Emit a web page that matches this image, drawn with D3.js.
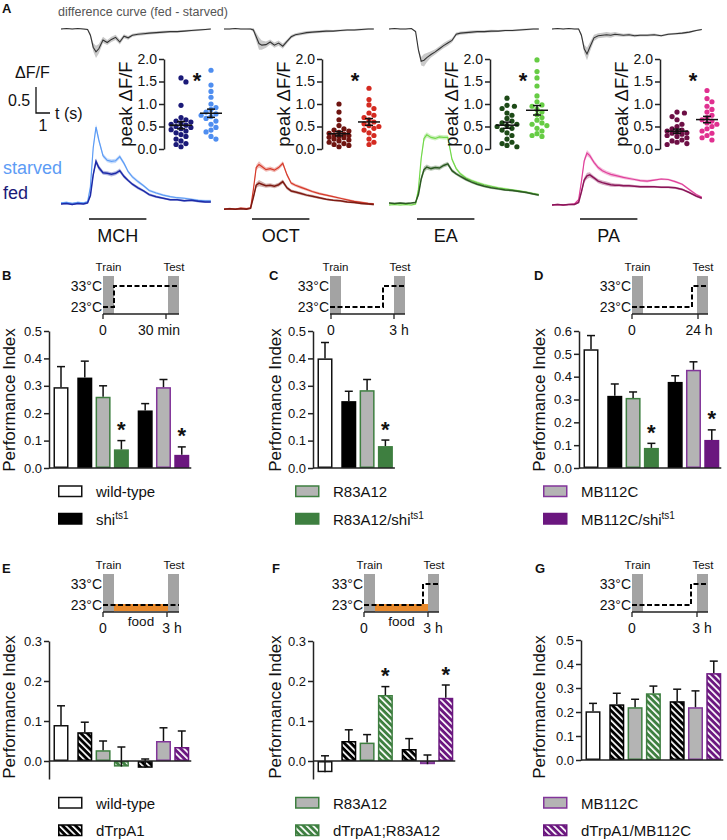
<!DOCTYPE html>
<html><head><meta charset="utf-8">
<script src="https://cdn.jsdelivr.net/npm/d3@7"></script>
<style>body{margin:0;background:#fff}svg{display:block}</style>
</head><body><svg id="c" width="727" height="840"></svg>
<script>
const FONT='"Liberation Sans",Arial,Helvetica,sans-serif';
// ---------------- Panel A data ----------------
const odors=["MCH","OCT","EA","PA"];
const traceT=[0,0.4,0.8,1.2,1.6,1.9,2.1,2.3,2.5,2.7,3.0,3.3,3.6,3.9,4.2,4.5,4.8,5.1,5.5,5.9,6.3,6.8,7.3,7.8,8.3,8.8,9.3,9.8,10.3,10.7];
const odorWindow=[2.0,6.1];
const fedMCH=[0.02,0.03,0.01,0.03,0.02,0.04,0.18,0.58,0.84,0.72,0.62,0.61,0.59,0.61,0.66,0.55,0.47,0.40,0.33,0.27,0.20,0.16,0.13,0.10,0.10,0.08,0.09,0.07,0.06,0.06];
const starvedMCH=[0.04,0.05,0.03,0.05,0.04,0.06,0.35,1.10,1.50,1.25,0.95,0.86,0.84,0.85,0.93,0.80,0.64,0.54,0.45,0.37,0.28,0.23,0.19,0.16,0.14,0.13,0.11,0.09,0.08,0.08];
const fedOCT=[-0.08,-0.07,-0.08,-0.07,-0.08,-0.06,0.15,0.38,0.42,0.40,0.37,0.38,0.36,0.39,0.45,0.33,0.27,0.25,0.22,0.19,0.17,0.14,0.11,0.09,0.08,0.06,0.05,0.03,0.02,0.01];
const starvedOCT=[-0.08,-0.07,-0.08,-0.06,-0.07,-0.06,0.30,0.72,0.78,0.74,0.68,0.70,0.67,0.72,0.80,0.58,0.42,0.38,0.34,0.30,0.26,0.22,0.19,0.16,0.13,0.10,0.07,0.05,0.03,0.02];
const fedEA=[0.04,0.03,0.04,0.03,0.04,0.05,0.20,0.50,0.68,0.73,0.70,0.72,0.71,0.76,0.79,0.66,0.60,0.55,0.49,0.44,0.40,0.36,0.33,0.31,0.29,0.28,0.26,0.24,0.21,0.19];
const starvedEA=[0.00,0.01,0.00,0.01,0.00,0.02,0.30,0.90,1.28,1.35,1.30,1.28,1.31,1.30,1.30,0.88,0.70,0.60,0.52,0.47,0.43,0.39,0.36,0.33,0.31,0.29,0.27,0.25,0.22,0.20];
const fedPA=[0.00,0.01,0.00,0.01,0.01,0.05,0.25,0.48,0.56,0.58,0.52,0.46,0.43,0.41,0.39,0.38,0.38,0.37,0.37,0.36,0.35,0.35,0.35,0.34,0.34,0.33,0.30,0.24,0.17,0.13];
const starvedPA=[0.00,0.01,0.00,0.01,0.02,0.10,0.45,0.85,1.00,0.95,0.82,0.72,0.66,0.62,0.59,0.57,0.55,0.53,0.51,0.49,0.47,0.46,0.48,0.50,0.49,0.45,0.40,0.30,0.20,0.15];
const traceSem=[0.015,0.015,0.015,0.015,0.015,0.02,0.03,0.05,0.06,0.05,0.04,0.04,0.04,0.04,0.04,0.035,0.03,0.03,0.03,0.025,0.025,0.025,0.02,0.02,0.02,0.02,0.02,0.02,0.02,0.02];
const diffMCH=[0.00,0.01,0.00,0.01,0.00,-0.01,-0.12,-0.35,-0.44,-0.38,-0.21,-0.26,-0.20,-0.16,-0.25,-0.14,-0.17,-0.12,-0.10,-0.09,-0.08,-0.07,-0.06,-0.05,-0.05,-0.04,-0.03,-0.02,-0.01,0.00];
const diffOCT=[0.00,0.00,0.01,0.00,0.00,0.00,-0.02,-0.15,-0.28,-0.31,-0.30,-0.25,-0.31,-0.27,-0.33,-0.24,-0.15,-0.11,-0.09,-0.07,-0.06,-0.05,-0.04,-0.04,-0.03,-0.02,-0.02,-0.01,0.00,0.00];
const diffEA=[0.00,0.01,0.00,0.00,0.01,-0.05,-0.40,-0.62,-0.60,-0.55,-0.49,-0.44,-0.38,-0.32,-0.27,-0.22,-0.10,-0.08,-0.07,-0.06,-0.05,-0.05,-0.04,-0.04,-0.03,-0.03,-0.02,-0.01,0.00,0.00];
const diffPA=[0.00,0.01,0.00,0.01,0.00,0.00,-0.12,-0.38,-0.48,-0.35,-0.17,-0.13,-0.12,-0.11,-0.12,-0.10,-0.11,-0.12,-0.11,-0.13,-0.12,-0.12,-0.11,-0.13,-0.10,-0.09,-0.08,-0.06,-0.03,-0.01];
const diffSem=[0.01,0.01,0.01,0.01,0.01,0.015,0.04,0.08,0.12,0.09,0.06,0.05,0.05,0.05,0.05,0.04,0.035,0.03,0.03,0.03,0.025,0.025,0.025,0.02,0.02,0.02,0.02,0.02,0.015,0.015];
const peakFedMCH=[1.58,1.49,0.97,0.70,0.65,0.62,0.60,0.58,0.55,0.53,0.50,0.48,0.45,0.43,0.40,0.36,0.32,0.28,0.22,0.18,0.12,0.10,0.05];
const peakStarvedMCH=[1.75,1.42,1.28,1.15,1.00,0.92,0.88,0.82,0.78,0.75,0.72,0.68,0.62,0.55,0.48,0.42,0.38,0.28,0.22];
const peakFedOCT=[1.00,0.82,0.65,0.52,0.45,0.42,0.40,0.37,0.35,0.33,0.31,0.30,0.28,0.26,0.25,0.22,0.20,0.18,0.15,0.12,0.10,0.08,0.05];
const peakStarvedOCT=[1.35,1.10,0.98,0.90,0.80,0.75,0.70,0.65,0.60,0.56,0.52,0.50,0.46,0.42,0.36,0.30,0.22,0.15,0.10];
const peakFedEA=[1.13,0.97,0.95,0.90,0.80,0.75,0.68,0.62,0.58,0.55,0.52,0.50,0.46,0.42,0.36,0.30,0.22,0.15,0.12,0.08,0.05];
const peakStarvedEA=[1.98,1.72,1.58,1.40,1.18,1.05,0.98,0.95,0.88,0.82,0.76,0.70,0.64,0.58,0.55,0.52,0.46,0.40,0.34,0.30,0.28];
const peakFedPA=[0.82,0.80,0.72,0.65,0.55,0.50,0.45,0.42,0.40,0.38,0.36,0.35,0.33,0.30,0.28,0.25,0.20,0.18,0.15,0.12,0.10];
const peakStarvedPA=[1.30,1.12,1.05,0.95,0.88,0.82,0.75,0.70,0.65,0.62,0.58,0.55,0.50,0.45,0.40,0.35,0.30,0.25,0.20];
const peakTicks=[0,0.5,1.0,1.5,2.0];
// ---------------- Behaviour data ----------------
const legendBD=[["wild-type","shi","ts1"],["R83A12","R83A12/shi","ts1"],["MB112C","MB112C/shi","ts1"]];
const legendEG=[["wild-type","dTrpA1"],["R83A12","dTrpA1;R83A12"],["MB112C","dTrpA1/MB112C"]];
const piB=[0.295,0.33,0.26,0.068,0.21,0.295,0.048], semB=[0.075,0.06,0.04,0.032,0.025,0.028,0.029], sigB=[0,0,0,1,0,0,1];
const piC=[0.40,0.244,0.284,0.08], semC=[0.058,0.036,0.039,0.022], sigC=[0,0,0,1];
const piD=[0.52,0.316,0.307,0.088,0.377,0.43,0.123], semD=[0.06,0.052,0.026,0.02,0.027,0.035,0.044], sigD=[0,0,0,1,0,0,1];
const piE=[0.09,0.072,0.027,-0.014,-0.017,0.05,0.035], semE=[0.048,0.025,0.023,0.049,0.022,0.033,0.04], sigE=[0,0,0,0,0,0,0];
const piF=[-0.028,0.05,0.046,0.165,0.03,-0.008,0.158], semF=[0.041,0.028,0.02,0.021,0.026,0.023,0.032], sigF=[0,0,0,1,0,0,1];
const piG=[0.203,0.232,0.22,0.278,0.245,0.22,0.362], semG=[0.033,0.046,0.033,0.03,0.05,0.068,0.05], sigG=[0,0,0,0,0,0,0];
const ticks05=[0,0.1,0.2,0.3,0.4,0.5], ticks06=[0,0.1,0.2,0.3,0.4,0.5,0.6], ticks03=[0,0.1,0.2,0.3];

// ---------------- drawing ----------------
const svg=d3.select("#c").attr("font-family",FONT);
svg.append("rect").attr("width",727).attr("height",840).attr("fill","#fff");
const defs=svg.append("defs");
const GRN="#3e7f40", PUR="#6b177f", PURB="#82359a", GRAY="#b4b4b4";
[["hBlk","#000"],["hGrn",GRN],["hPur",PUR]].forEach(([id,c])=>{
  const p=defs.append("pattern").attr("id",id).attr("patternUnits","userSpaceOnUse")
    .attr("width",4.6).attr("height",4.6).attr("patternTransform","rotate(-45)");
  p.append("rect").attr("width",4.6).attr("height",4.6).attr("fill",c);
  p.append("rect").attr("width",1.7).attr("height",4.6).attr("fill","#fff");
});
function txt(x,y,s,o={}){
  const t=svg.append("text").attr("x",x).attr("y",y).text(s)
   .attr("font-size",o.fs||13).attr("fill",o.fill||"#111").attr("text-anchor",o.anchor||"start");
  if(o.bold) t.attr("font-weight","bold");
  if(o.rot) t.attr("transform",`rotate(-90,${x},${y})`);
  return t;
}
function styleAxis(a,fs){
  a.select(".domain").attr("stroke","#222").attr("stroke-width",1.5);
  a.selectAll(".tick line").attr("stroke","#222").attr("stroke-width",1.5);
  a.selectAll(".tick text").attr("font-size",fs).attr("font-family",FONT).attr("fill","#111");
}

// Panel A
txt(2,13,"A",{fs:13,bold:true});
txt(58,16,"difference curve (fed - starved)",{fs:12.5,fill:"#555"});
const traceX0=[61,224,389,552], dotAxisX=[164,322,490,660];
const fedTr=[fedMCH,fedOCT,fedEA,fedPA], stTr=[starvedMCH,starvedOCT,starvedEA,starvedPA];
const diffs=[diffMCH,diffOCT,diffEA,diffPA];
const peaksF=[peakFedMCH,peakFedOCT,peakFedEA,peakFedPA], peaksS=[peakStarvedMCH,peakStarvedOCT,peakStarvedEA,peakStarvedPA];
const colFed=["#1c2aa8","#7d1a12","#2c5a22","#8a1558"], colSt=["#5d9cf5","#d63a2a","#72d84a","#e0409a"];
const dotFed=["#1b1a78","#6e1410","#1d4a17","#6d0f45"], dotSt=["#4f8ef0","#d42a20","#66cc44","#e03090"];
const tx=d3.scaleLinear().domain([0,1]).range([0,14]);
const ty=d3.scaleLinear().domain([0,1]).range([205,153]);
const dyY=d3.scaleLinear().domain([0,1]).range([29,-23]);
const py=d3.scaleLinear().domain([0,2]).range([149,59]);

function swarm(vals,cx,y,r,maxOff){
  const placed=[],res=new Array(vals.length);
  const order=vals.map((v,i)=>i).sort((a,b)=>vals[b]-vals[a]);
  const cands=[0];for(let k=1;k<=6;k++){cands.push(k*r*0.95,-k*r*0.95);}
  order.forEach(i=>{
    const yy=y(vals[i]);let best=cx,bo=Infinity;
    for(const c of cands){if(Math.abs(c)>maxOff)continue;const px=cx+c;let ov=0;
      placed.forEach(p=>{const d=Math.hypot(p.x-px,p.y-yy);if(d<2*r)ov+=2*r-d;});
      if(ov<bo-1e-9){bo=ov;best=px;} if(ov===0)break;}
    placed.push({x:best,y:yy});res[i]={x:best,y:yy};
  });
  return res;
}

odors.forEach((od,k)=>{
  const x0=traceX0[k], X=i=>x0+tx(traceT[i]);
  // difference curve
  const dArea=d3.area().x((d,i)=>X(i)).y0((d,i)=>dyY(d-diffSem[i])).y1((d,i)=>dyY(d+diffSem[i]));
  svg.append("path").attr("d",dArea(diffs[k])).attr("fill","#c9c9c9");
  svg.append("path").attr("d",d3.line().x((d,i)=>X(i)).y(d=>dyY(d))(diffs[k])).attr("fill","none").attr("stroke","#333").attr("stroke-width",1.1);
  // traces
  [[stTr[k],colSt[k],1.2],[fedTr[k],colFed[k],1.5]].forEach(([arr,c,w])=>{
    const ar=d3.area().x((d,i)=>X(i)).y0((d,i)=>ty(d-traceSem[i])).y1((d,i)=>ty(d+traceSem[i]));
    svg.append("path").attr("d",ar(arr)).attr("fill",c).attr("opacity",0.35);
    svg.append("path").attr("d",d3.line().x((d,i)=>X(i)).y(d=>ty(d))(arr)).attr("fill","none").attr("stroke",c).attr("stroke-width",w);
  });
  // odor bar
  svg.append("line").attr("x1",x0+tx(odorWindow[0])).attr("x2",x0+tx(odorWindow[1])).attr("y1",219).attr("y2",219).attr("stroke","#111").attr("stroke-width",1.3);
  txt(x0+tx((odorWindow[0]+odorWindow[1])/2),241.5,od,{fs:18,anchor:"middle"});
  // dot plot
  const ax=dotAxisX[k];
  const a=svg.append("g").attr("transform",`translate(${ax},0)`).call(d3.axisLeft(py).tickValues(peakTicks).tickFormat(d3.format(".1f")).tickSize(5).tickSizeOuter(0).tickPadding(2));
  styleAxis(a,14);
  txt(ax-32,104,"peak ΔF/F",{fs:18.5,anchor:"middle",rot:true});
  [[peaksF[k],ax+17,dotFed[k]],[peaksS[k],ax+47,dotSt[k]]].forEach(([vals,cx,c])=>{
    swarm(vals,cx,py,2.6,11).forEach(p=>svg.append("circle").attr("cx",p.x).attr("cy",p.y).attr("r",2.6).attr("fill",c));
    const m=d3.mean(vals),se=d3.deviation(vals)/Math.sqrt(vals.length);
    const g=svg.append("g").attr("stroke","#111").attr("stroke-width",1.5);
    g.append("line").attr("x1",cx-11).attr("x2",cx+11).attr("y1",py(m)).attr("y2",py(m));
    g.append("line").attr("x1",cx).attr("x2",cx).attr("y1",py(m-se)).attr("y2",py(m+se));
    [m-se,m+se].forEach(v=>g.append("line").attr("x1",cx-4).attr("x2",cx+4).attr("y1",py(v)).attr("y2",py(v)));
  });
  txt(ax+33,88,"*",{fs:22,bold:true,anchor:"middle"});
});
// scale bar + legend
svg.append("path").attr("d",`M36,${ty(0.5)-ty(0)+113}V113H${36+tx(1)}`).attr("fill","none").attr("stroke","#111").attr("stroke-width",1.3);
txt(15,78,"ΔF/F",{fs:16});
txt(8,106,"0.5",{fs:16});
txt(55,119,"t (s)",{fs:16});
txt(43,131,"1",{fs:16,anchor:"middle"});
txt(3,174,"starved",{fs:18,fill:colSt[0]});
txt(3,199,"fed",{fs:18,fill:"#1b1a78"});

// ---------------- behaviour panels ----------------
const styleMap={
 wt:{fill:"#fff",stroke:"#111"}, blk:{fill:"#000",stroke:"#000"},
 grg:{fill:GRAY,stroke:GRN}, grn:{fill:GRN,stroke:GRN},
 grp:{fill:GRAY,stroke:PURB}, pur:{fill:PUR,stroke:PUR},
 hblk:{fill:"url(#hBlk)",stroke:"#000"}, hgrn:{fill:"url(#hGrn)",stroke:GRN}, hpur:{fill:"url(#hPur)",stroke:PUR}
};
const st7=["wt","blk","grg","grn","blk","grp","pur"], st4=["wt","blk","grg","grn"];
const stH=["wt","hblk","grg","hgrn","hblk","grp","hpur"];
const grp7=[0,1,1,1,2,2,2], grp4=[0,1,1,1];

function barPanel(o){
  const y=d3.scaleLinear().domain([0,o.top]).range([o.yZero,o.yTop]);
  const yAx=y.copy().domain([o.bottom,o.top]).range([y(o.bottom),y(o.top)]);
  const a=svg.append("g").attr("transform",`translate(${o.axisX},0)`).call(d3.axisLeft(yAx).tickValues(o.ticks).tickFormat(d3.format(".1f")).tickSize(5).tickSizeOuter(0).tickPadding(2));
  styleAxis(a,13);
  const x=d3.scaleLinear().domain([0,1]).range([o.axisX+4.5,o.axisX+22.8]);
  const bw=15;
  let right=0;
  o.vals.forEach((v,i)=>{
    const bx=x(i+0.3*o.groups[i]); right=bx+bw;
    const s=styleMap[o.styles[i]];
    svg.append("rect").attr("x",bx+0.75).attr("width",bw-1.5).attr("y",Math.min(y(v),y(0))+0.75).attr("height",Math.max(0.5,Math.abs(y(v)-y(0))-1.5))
      .attr("fill",s.fill).attr("stroke",s.stroke).attr("stroke-width",1.5);
    const cx=bx+bw/2, et=y(v+o.errs[i]);
    const g=svg.append("g").attr("stroke","#111").attr("stroke-width",1.5);
    g.append("line").attr("x1",cx).attr("x2",cx).attr("y1",y(v)).attr("y2",et);
    g.append("line").attr("x1",cx-4).attr("x2",cx+4).attr("y1",et).attr("y2",et);
    if(o.sig[i]) txt(cx,et-3.5,"*",{fs:22,bold:true,anchor:"middle"});
  });
  svg.append("line").attr("x1",o.axisX).attr("x2",right+2).attr("y1",y(0)).attr("y2",y(0)).attr("stroke","#222").attr("stroke-width",1.5);
  txt(o.labelX,o.labelY,"Performance Index",{fs:17,anchor:"middle",rot:true});
}
function schematic(o){
  const top=o.axisY-38, y33=o.axisY-28, y23=o.axisY-7, end=o.testX+11;
  svg.append("rect").attr("x",o.x0).attr("y",top).attr("width",11).attr("height",38).attr("fill","#a3a3a3");
  svg.append("rect").attr("x",o.testX).attr("y",top).attr("width",11).attr("height",38).attr("fill","#a3a3a3");
  if(o.food){
    svg.append("rect").attr("x",o.x0+11).attr("y",o.axisY-8).attr("width",o.testX-o.x0-11).attr("height",7).attr("fill","#e8892b");
    txt((o.x0+11+o.testX)/2,o.axisY+14,"food",{fs:13.5,anchor:"middle"});
  }
  svg.append("line").attr("x1",o.x0).attr("x2",end).attr("y1",o.axisY).attr("y2",o.axisY).attr("stroke","#222").attr("stroke-width",1.3);
  o.ticks.forEach(t=>svg.append("line").attr("x1",t).attr("x2",t).attr("y1",o.axisY).attr("y2",o.axisY+5).attr("stroke","#222").attr("stroke-width",1.3));
  let d;
  if(o.stepX===null) d=`M${o.x0},${y23}H${end}`;
  else d=`M${o.x0},${y23}H${o.stepX}V${y33}H${end}`;
  svg.append("path").attr("d",d).attr("fill","none").attr("stroke","#000").attr("stroke-width",2).attr("stroke-dasharray","5,2.5");
  txt(o.x0+5.5,o.axisY-43,"Train",{fs:11.5,anchor:"middle"});
  txt(o.testX+6,o.axisY-43,"Test",{fs:11.5,anchor:"middle"});
  txt(o.x0-1,y33+5,"33°C",{fs:14,anchor:"end"});
  txt(o.x0-1,y23+5,"23°C",{fs:14,anchor:"end"});
  txt(o.ticks[0],o.axisY+21,"0",{fs:14,anchor:"middle"});
  txt(o.lab1X,o.axisY+21,o.lab1,{fs:14,anchor:"middle"});
}
function legend(x,y,items,styles){
  items.forEach((it,k)=>{
    const yy=y+k*27.5, s=styleMap[styles[k]];
    svg.append("rect").attr("x",x+0.75).attr("y",yy-5.5).attr("width",23).attr("height",10.5).attr("fill",s.fill).attr("stroke",s.stroke).attr("stroke-width",1.5);
    const t=txt(x+38,yy+5.5,it[0],{fs:15});
    if(it[1]) t.append("tspan").attr("font-size",10).attr("dy",-6).text(it[1]);
  });
}
// letters
[["B",2,280],["C",269,280],["D",534,280],["E",2,573],["F",272,573],["G",535,573]].forEach(([s,x,y])=>txt(x,y,s,{fs:13,bold:true}));
// schematics
schematic({x0:103,testX:168,axisY:314,stepX:114,ticks:[103,166],lab1:"30 min",lab1X:159});
schematic({x0:330,testX:394,axisY:314,stepX:383,ticks:[331,394],lab1:"3 h",lab1X:399});
schematic({x0:632,testX:697,axisY:314,stepX:692,ticks:[632,698],lab1:"24 h",lab1X:699});
schematic({x0:103,testX:168,axisY:612,stepX:null,food:true,ticks:[103,167],lab1:"3 h",lab1X:172});
schematic({x0:364,testX:428,axisY:612,stepX:423,food:true,ticks:[364,428],lab1:"3 h",lab1X:433});
schematic({x0:632,testX:697,axisY:612,stepX:691,ticks:[632,697],lab1:"3 h",lab1X:702});
// bar charts
barPanel({axisX:49,yZero:468,yTop:331,top:0.5,bottom:0,ticks:ticks05,vals:piB,errs:semB,sig:sigB,styles:st7,groups:grp7,labelX:15,labelY:400});
barPanel({axisX:313,yZero:468,yTop:331,top:0.5,bottom:0,ticks:ticks05,vals:piC,errs:semC,sig:sigC,styles:st4,groups:grp4,labelX:281,labelY:400});
barPanel({axisX:579,yZero:468,yTop:331,top:0.6,bottom:0,ticks:ticks06,vals:piD,errs:semD,sig:sigD,styles:st7,groups:grp7,labelX:545,labelY:400});
barPanel({axisX:49,yZero:761,yTop:641,top:0.3,bottom:-0.045,ticks:ticks03,vals:piE,errs:semE,sig:sigE,styles:stH,groups:grp7,labelX:15,labelY:707});
barPanel({axisX:313,yZero:761,yTop:641,top:0.3,bottom:-0.045,ticks:ticks03,vals:piF,errs:semF,sig:sigF,styles:stH,groups:grp7,labelX:281,labelY:707});
barPanel({axisX:581,yZero:760,yTop:640,top:0.5,bottom:0,ticks:ticks05,vals:piG,errs:semG,sig:sigG,styles:stH,groups:grp7,labelX:545,labelY:707});
// legends
const legX=[58,295,543];
const stBD=[["wt","blk"],["grg","grn"],["grp","pur"]], stEG=[["wt","hblk"],["grg","hgrn"],["grp","hpur"]];
legendBD.forEach((L,k)=>legend(legX[k],491.5,[[L[0]],[L[1],L[2]]],stBD[k]));
legendEG.forEach((L,k)=>legend(legX[k],803,[[L[0]],[L[1]]],stEG[k]));
</script></body></html>
